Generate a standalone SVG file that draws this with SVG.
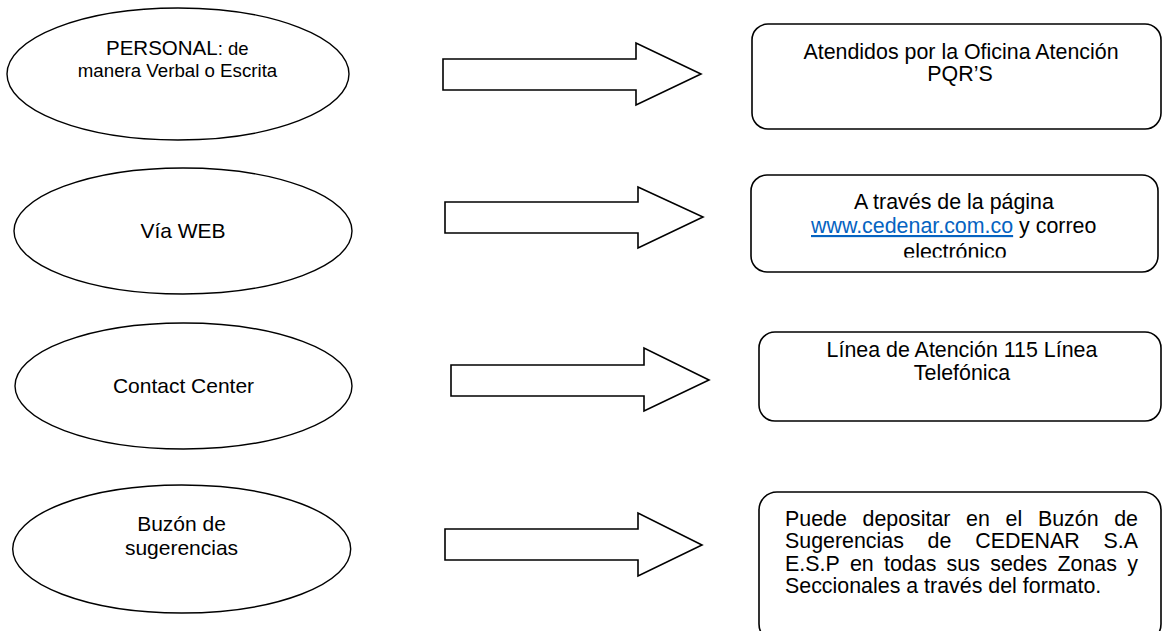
<svg xmlns="http://www.w3.org/2000/svg" width="1162" height="631" viewBox="0 0 1162 631">
<style>
.ell{fill:#fff;stroke:#000;stroke-width:1.4}
.box{fill:#fff;stroke:#000;stroke-width:1.6}
.arr{fill:#fff;stroke:#000;stroke-width:1.6;stroke-linejoin:miter}
text{font-family:"Liberation Sans",Arial,sans-serif;fill:#000}
.t21{font-size:21px;text-anchor:middle}
.tr{font-size:21.4px}
.mid{text-anchor:middle}
.link{fill:#0563C1;text-decoration:underline}
</style>
<defs>
<clipPath id="clip2"><rect x="751" y="175" width="407" height="82.5"/></clipPath>
</defs>
<rect width="1162" height="631" fill="#fff"/>

<g id="connectors">
<polygon class="arr" points="443,59 636,59 636,43 701,74 636,105 636,90 443,90"/>
<polygon class="arr" points="445,202 638,202 638,187 703,217 638,248 638,233 445,233"/>
<polygon class="arr" points="451,365 644,365 644,348 709,380 644,411 644,396 451,396"/>
<polygon class="arr" points="445,529 638,529 638,513 702,545 638,576 638,560 445,560"/>
</g>

<g id="personal">
<ellipse class="ell" cx="178" cy="74" rx="171" ry="66"/>
<text x="106" y="55"><tspan font-size="20.5">PERSONAL</tspan><tspan font-size="18.5">: de</tspan></text>
<text class="mid" font-size="18.7" x="177.5" y="77">manera Verbal o Escrita</text>
</g>

<g id="via-web">
<ellipse class="ell" cx="183" cy="231" rx="169" ry="63"/>
<text class="t21" x="183" y="238">Vía WEB</text>
</g>

<g id="contact-center">
<ellipse class="ell" cx="183.5" cy="386" rx="168.5" ry="63"/>
<text class="t21" x="183.5" y="393">Contact Center</text>
</g>

<g id="buzon">
<ellipse class="ell" cx="181.7" cy="549" rx="169" ry="64"/>
<text class="t21" x="181.5" y="531">Buzón de</text>
<text class="t21" x="181.5" y="555">sugerencias</text>
</g>

<g id="box-oficina">
<rect class="box" x="752" y="24" width="409" height="105" rx="16"/>
<text class="tr mid" x="961" y="59">Atendidos por la Oficina Atención</text>
<text class="tr mid" x="960" y="81">PQR’S</text>
</g>

<g id="box-web">
<rect class="box" x="751" y="175" width="407" height="97" rx="16"/>
<text class="tr mid" x="954" y="209">A través de la página</text>
<text class="tr" x="811" y="233"><tspan class="link">www.cedenar.com.co</tspan> y correo</text>
<g clip-path="url(#clip2)">
<text class="tr mid" x="955" y="258.5">electrónico</text>
</g>
</g>

<g id="box-linea">
<rect class="box" x="759" y="332" width="402" height="89" rx="16"/>
<text class="tr mid" x="962" y="357">Línea de Atención 115 Línea</text>
<text class="tr mid" x="962" y="380">Telefónica</text>
</g>

<g id="box-buzon">
<rect class="box" x="759" y="492" width="402" height="150" rx="18"/>
<text class="tr" y="526"><tspan x="785">Puede</tspan><tspan x="862.5">depositar</tspan><tspan x="966.1">en</tspan><tspan x="1005.6">el</tspan><tspan x="1037.9">Buzón</tspan><tspan x="1114.2">de</tspan></text>
<text class="tr" y="548"><tspan x="785">Sugerencias</tspan><tspan x="927.6">de</tspan><tspan x="975.2">CEDENAR</tspan><tspan x="1103.5">S.A</tspan></text>
<text class="tr" y="570.5"><tspan x="785">E.S.P</tspan><tspan x="849.9">en</tspan><tspan x="884">todas</tspan><tspan x="946.6">sus</tspan><tspan x="990.2">sedes</tspan><tspan x="1057.5">Zonas</tspan><tspan x="1127.2">y</tspan></text>
<text class="tr" x="785" y="592.5">Seccionales a través del formato.</text>
</g>
</svg>
